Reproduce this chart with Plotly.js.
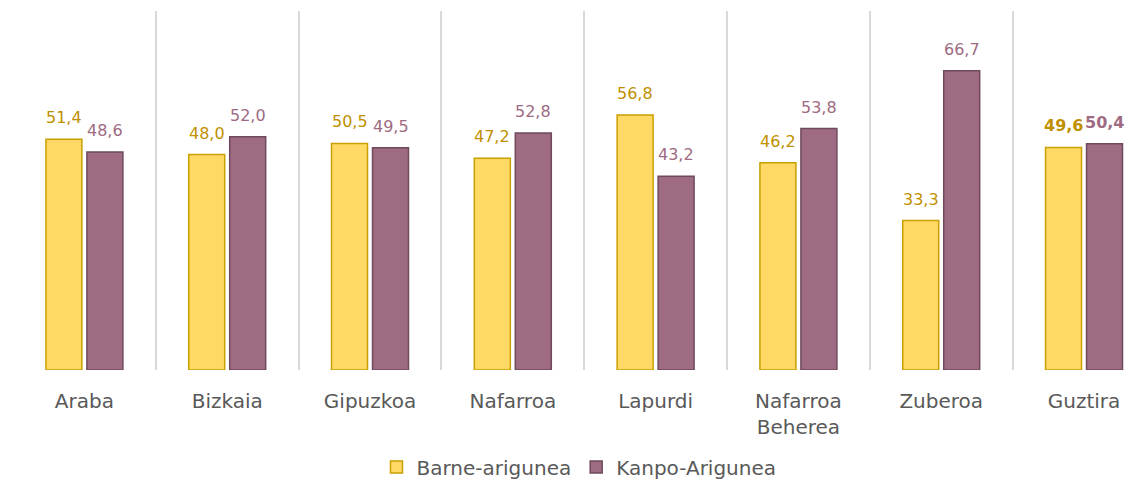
<!DOCTYPE html>
<html>
<head>
<meta charset="utf-8">
<script src="https://cdn.plot.ly/plotly-3.0.1.min.js"></script>
<style>html,body{margin:0;padding:0;background:#fff;}#chart{width:1145px;height:480px;}</style>
</head>
<body>
<div id="chart"></div>
<script>
const categories = ["Araba", "Bizkaia", "Gipuzkoa", "Nafarroa", "Lapurdi", "Nafarroa<br>Beherea", "Zuberoa", "Guztira"];
const barneValues = [51.4, 48.0, 50.5, 47.2, 56.8, 46.2, 33.3, 49.6];
const kanpoValues = [48.6, 52.0, 49.5, 52.8, 43.2, 53.8, 66.7, 50.4];
const seriesNames = ["Barne-arigunea", "Kanpo-Arigunea"];

const FONT = "DejaVu Sans, Open Sans, sans-serif";
const yellowFill = "#FFD966", yellowLine = "#C9A000", yellowText = "#BF9000";
const mauveFill = "#9E6B82", mauveLine = "#6E4A5C", mauveText = "#9E6B82";

const fmt = v => v.toFixed(1).replace('.', ',');

const traces = [
  {type: 'bar', name: seriesNames[0], x: categories, y: barneValues,
   marker: {color: yellowFill, line: {color: yellowLine, width: 1.5}}, hoverinfo: 'none'},
  {type: 'bar', name: seriesNames[1], x: categories, y: kanpoValues,
   marker: {color: mauveFill, line: {color: mauveLine, width: 1.5}}, hoverinfo: 'none'}
];

const annotations = [];
const offsets = [-0.1435, 0.1435];
[barneValues, kanpoValues].forEach((vals, si) => {
  vals.forEach((v, i) => {
    const last = i === vals.length - 1;
    annotations.push({
      x: i + offsets[si], y: v, xref: 'x', yref: 'y',
      text: last ? '<b>' + fmt(v) + '</b>' : fmt(v),
      showarrow: false, yanchor: 'bottom', yshift: 10,
      font: {family: FONT, size: 16, color: si === 0 ? yellowText : mauveText}
    });
  });
});

const layout = {
  width: 1145, height: 480,
  margin: {l: 12.6, r: 0, t: 11, b: 109.5},
  paper_bgcolor: '#fff', plot_bgcolor: '#fff',
  barmode: 'group', bargap: 0.426, bargroupgap: 0.122,
  xaxis: {type: 'category', range: [-0.5, 7.427], tickson: 'boundaries', ticks: '',
          showgrid: true, gridcolor: '#D9D9D9', gridwidth: 2, showline: false, zeroline: false,
          ticklabelstandoff: 17, automargin: false,
          tickfont: {family: FONT, size: 20, color: '#595959'}, fixedrange: true},
  yaxis: {range: [0, 80], showgrid: false, showticklabels: false, zeroline: false, showline: false,
          automargin: false, fixedrange: true},
  showlegend: true,
  legend: {orientation: 'h', x: 0.5, xanchor: 'center', yref: 'container', y: 0.027, yanchor: 'middle',
           font: {family: FONT, size: 20, color: '#595959'}, itemwidth: 30, tracegroupgap: 0},
  annotations: annotations,
  font: {family: FONT}
};

Plotly.newPlot('chart', traces, layout, {displayModeBar: false, staticPlot: true});
</script>
</body>
</html>
